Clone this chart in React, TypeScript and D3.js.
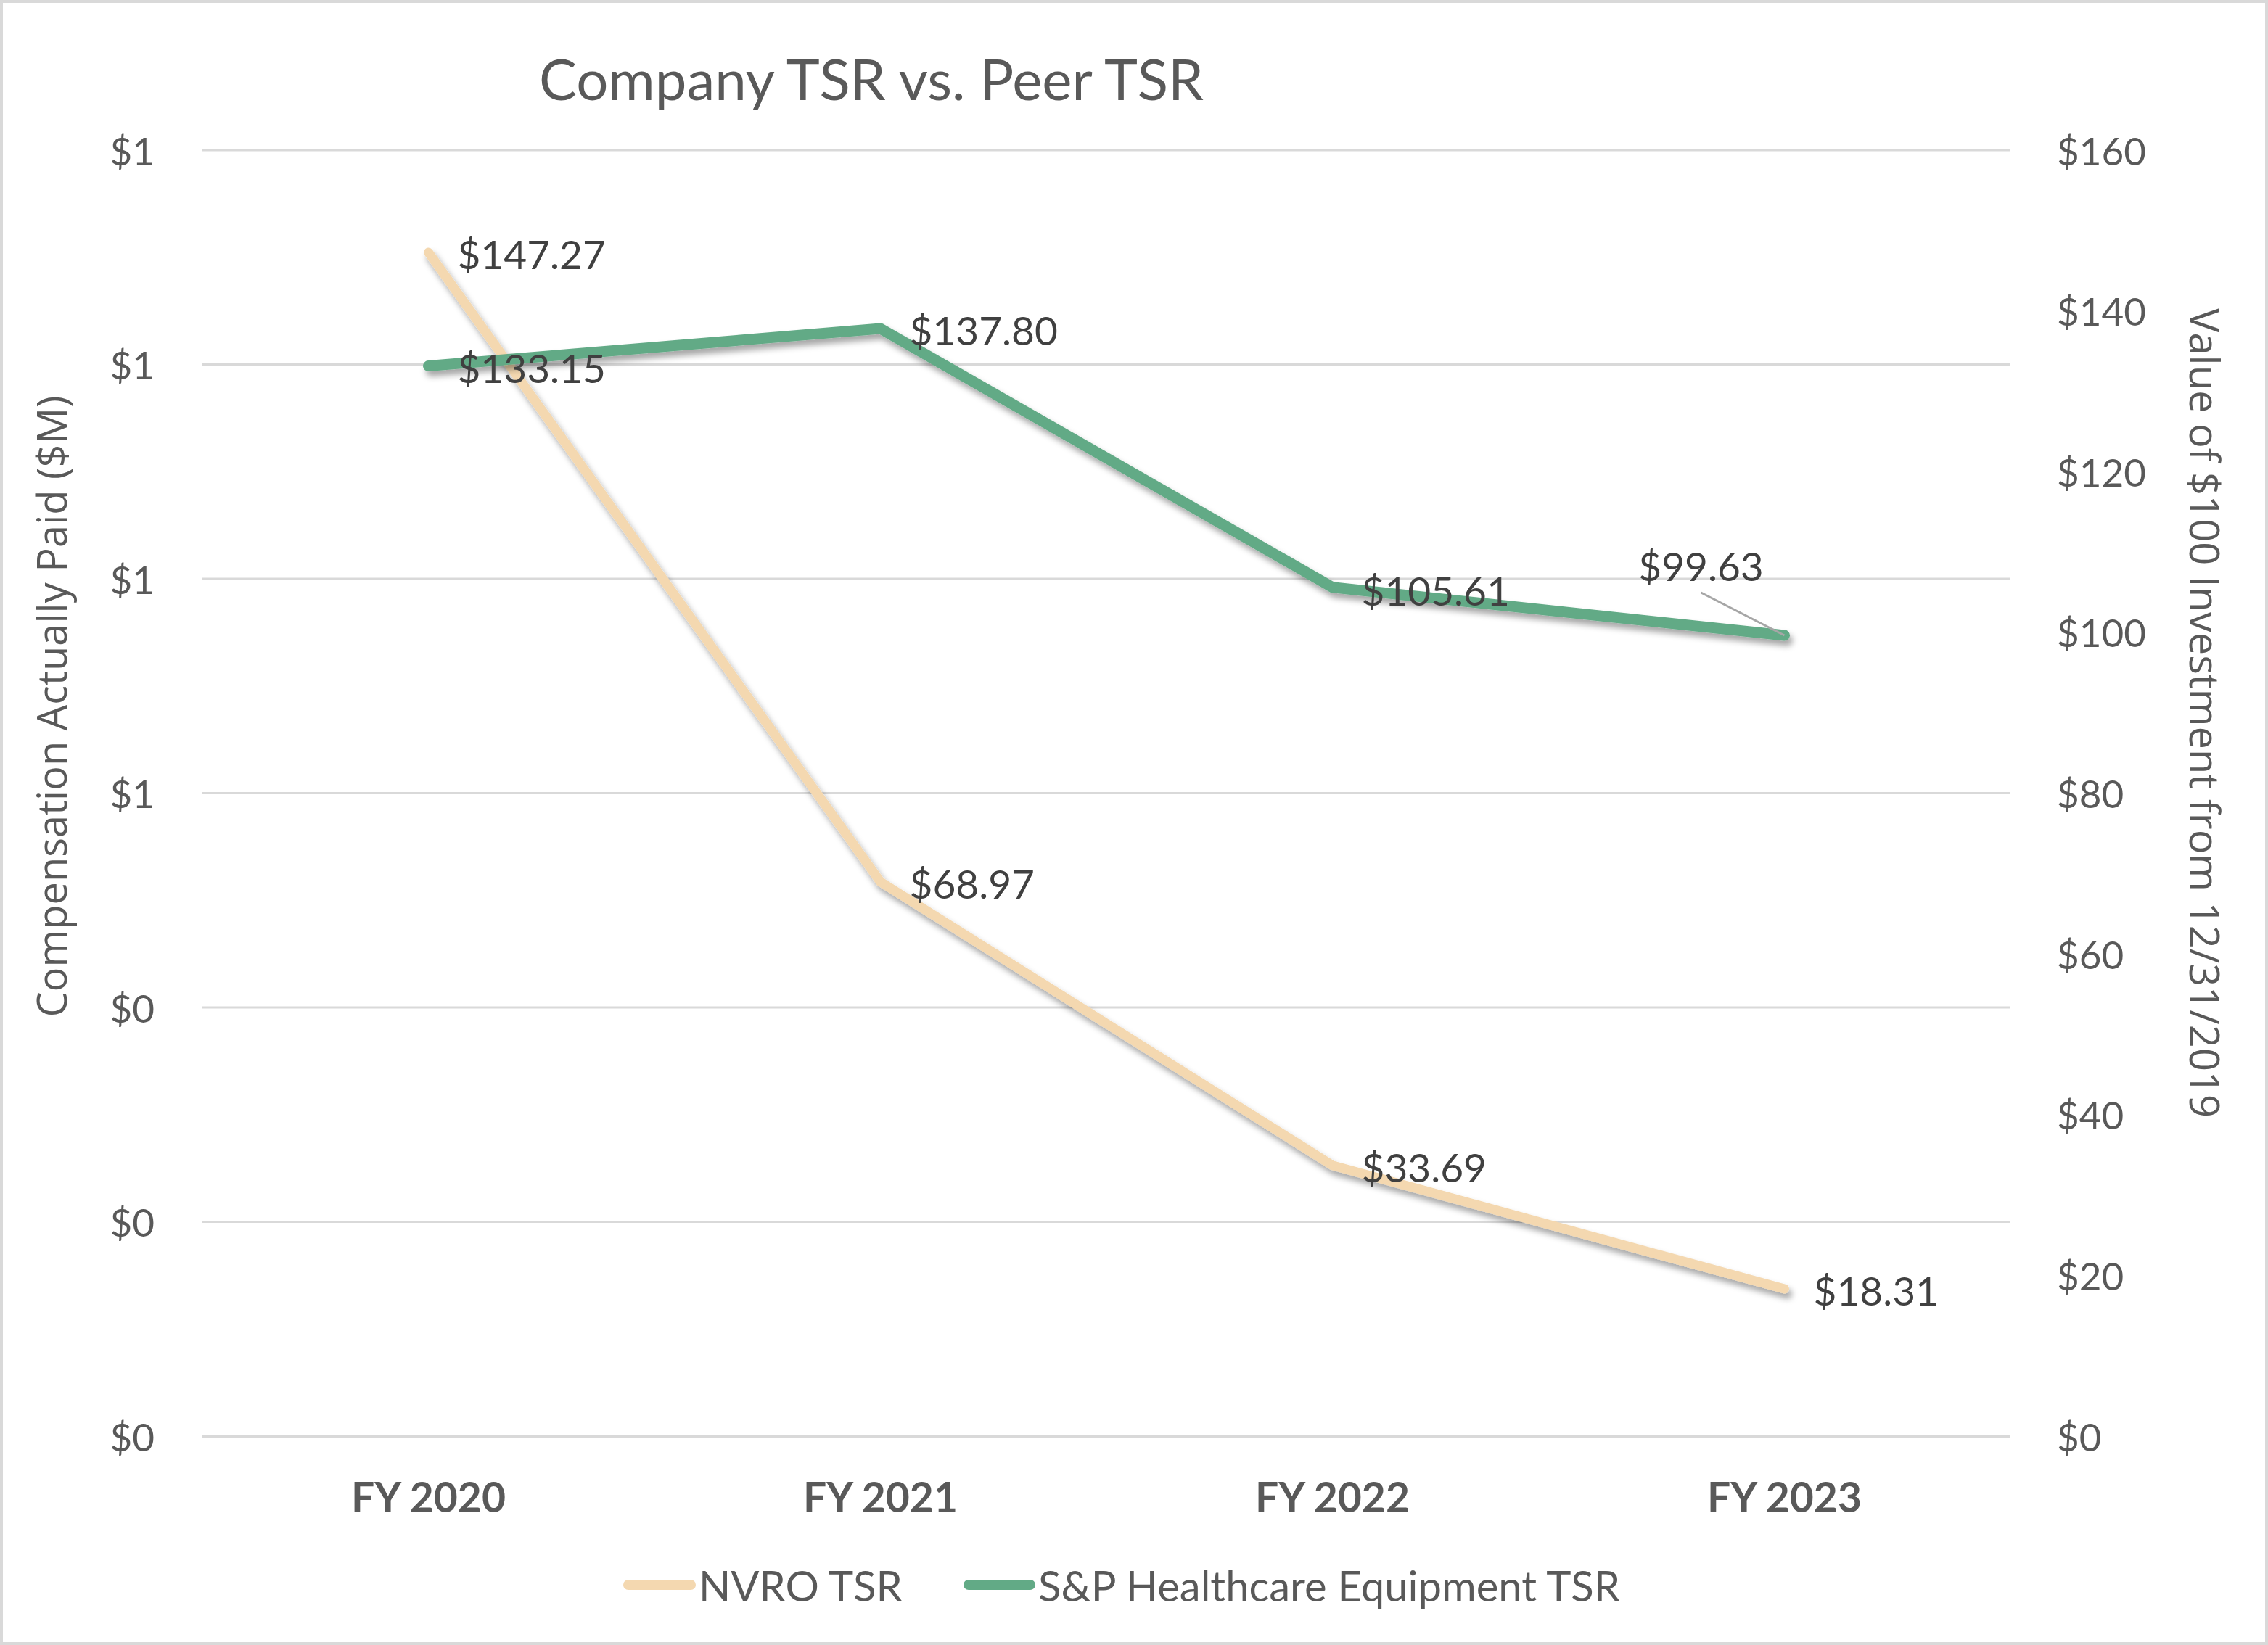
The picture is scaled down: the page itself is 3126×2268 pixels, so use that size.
import React from "react";
import * as d3 from "d3";

const years = ["FY 2020", "FY 2021", "FY 2022", "FY 2023"];
const nvroTSR = [147.27, 68.97, 33.69, 18.31];
const peerTSR = [133.15, 137.8, 105.61, 99.63];
const leftTicks = [0, 0.2, 0.4, 0.6, 0.8, 1.0, 1.2];
const rightTicks = [0, 20, 40, 60, 80, 100, 120, 140, 160];
const seriesNames = ["NVRO TSR", "S&P Healthcare Equipment TSR"];

const W = 3126;
const H = 2268;
const FONT = "Lato, 'Open Sans', sans-serif";
const TITLE_FONT = "'Open Sans', Lato, sans-serif";
const BEIGE = "#F4D8B0";
const GREEN = "#62AA86";
const GRID = "#D9D9D9";
const TXT = "#595959";
const LBL = "#404040";

export default function App() {
  const left = 279, right = 2771, top = 207, bottom = 1980;
  const x = d3.scalePoint<string>().domain(years).range([left, right]).padding(0.5);
  const yR = d3.scaleLinear().domain([0, 160]).range([bottom, top]);
  const yL = d3.scaleLinear().domain([0, 1.2]).range([bottom, top]);
  const line = d3
    .line<number>()
    .x((_, i) => x(years[i]) as number)
    .y((d) => yR(d));

  const fmt = (v: number) => "$" + v.toFixed(2);

  // label placement offsets (x, y) relative to the point
  const nvroOffsets = [[40, 2], [40, 2], [40, 2], [40, 2]];
  const peerOffsets = [[40, 2], [40, 2], [40, 4], [-115, -96]];

  return (
    <svg
      width={W}
      height={H}
      viewBox={`0 0 ${W} ${H}`}
      style={{ position: "absolute", left: 0, top: 0, background: "#fff" }}
    >
      <defs>
        <filter id="shadow" x="-10%" y="-10%" width="120%" height="130%">
          <feDropShadow dx="4" dy="7" stdDeviation="4" floodColor="#000" floodOpacity="0.35" />
        </filter>
      </defs>
      <rect x={2} y={2} width={W - 4} height={H - 4} fill="#fff" stroke={GRID} strokeWidth={4} />

      <text x={1201} y={108} textAnchor="middle" dominantBaseline="central" fontFamily={FONT} fontSize={78} fill={TXT}>
        Company TSR vs. Peer TSR
      </text>

      {leftTicks.map((t, i) => (
        <g key={"l" + i}>
          <line x1={left} x2={right} y1={yL(t)} y2={yL(t)} stroke={GRID} strokeWidth={t === 0 ? 4 : 3} />
          <text x={213} y={yL(t)} textAnchor="end" dominantBaseline="central" fontFamily={FONT} fontSize={53} fill={TXT}>
            {"$" + Math.round(t)}
          </text>
        </g>
      ))}

      {rightTicks.map((t, i) => (
        <text key={"r" + i} x={2835} y={yR(t)} textAnchor="start" dominantBaseline="central" fontFamily={FONT} fontSize={53} fill={TXT}>
          {"$" + t}
        </text>
      ))}

      <text
        transform={`translate(70,974) rotate(-90)`}
        textAnchor="middle"
        dominantBaseline="central"
        fontFamily={TITLE_FONT}
        fontSize={56}
        fill={TXT}
      >
        Compensation Actually Paid ($M)
      </text>
      <text
        transform={`translate(3040,983) rotate(90)`}
        textAnchor="middle"
        dominantBaseline="central"
        fontFamily={TITLE_FONT}
        fontSize={56}
        fill={TXT}
      >
        Value of $100 Investment from 12/31/2019
      </text>

      {years.map((y) => (
        <text key={y} x={x(y)} y={2063} textAnchor="middle" dominantBaseline="central" fontFamily={FONT} fontWeight={700} fontSize={57} fill={TXT}>
          {y}
        </text>
      ))}

      <path d={line(nvroTSR) || ""} fill="none" stroke={BEIGE} strokeWidth={13} strokeLinecap="round" strokeLinejoin="round" filter="url(#shadow)" />
      <path d={line(peerTSR) || ""} fill="none" stroke={GREEN} strokeWidth={15} strokeLinecap="round" strokeLinejoin="round" filter="url(#shadow)" />

      {/* leader line for last peer label */}
      <line
        x1={(x(years[3]) as number) + peerOffsets[3][0]}
        y1={yR(peerTSR[3]) + peerOffsets[3][1] + 37}
        x2={x(years[3]) as number}
        y2={yR(peerTSR[3])}
        stroke="#A6A6A6"
        strokeWidth={3}
      />

      {nvroTSR.map((v, i) => (
        <text key={"n" + i} x={(x(years[i]) as number) + nvroOffsets[i][0]} y={yR(v) + nvroOffsets[i][1]} textAnchor="start" dominantBaseline="central" fontFamily={FONT} fontSize={55} fill={LBL}>
          {fmt(v)}
        </text>
      ))}
      {peerTSR.map((v, i) => (
        <text key={"p" + i} x={(x(years[i]) as number) + peerOffsets[i][0]} y={yR(v) + peerOffsets[i][1]} textAnchor={i === 3 ? "middle" : "start"} dominantBaseline="central" fontFamily={FONT} fontSize={55} fill={LBL}>
          {fmt(v)}
        </text>
      ))}

      {/* legend */}
      <line x1={866} x2={952} y1={2185} y2={2185} stroke={BEIGE} strokeWidth={14} strokeLinecap="round" />
      <text x={963} y={2185} dominantBaseline="central" fontFamily={FONT} fontSize={58} fill={TXT}>
        {seriesNames[0]}
      </text>
      <line x1={1335} x2={1420} y1={2185} y2={2185} stroke={GREEN} strokeWidth={14} strokeLinecap="round" />
      <text x={1431} y={2185} dominantBaseline="central" fontFamily={FONT} fontSize={58} fill={TXT}>
        {seriesNames[1]}
      </text>
    </svg>
  );
}
